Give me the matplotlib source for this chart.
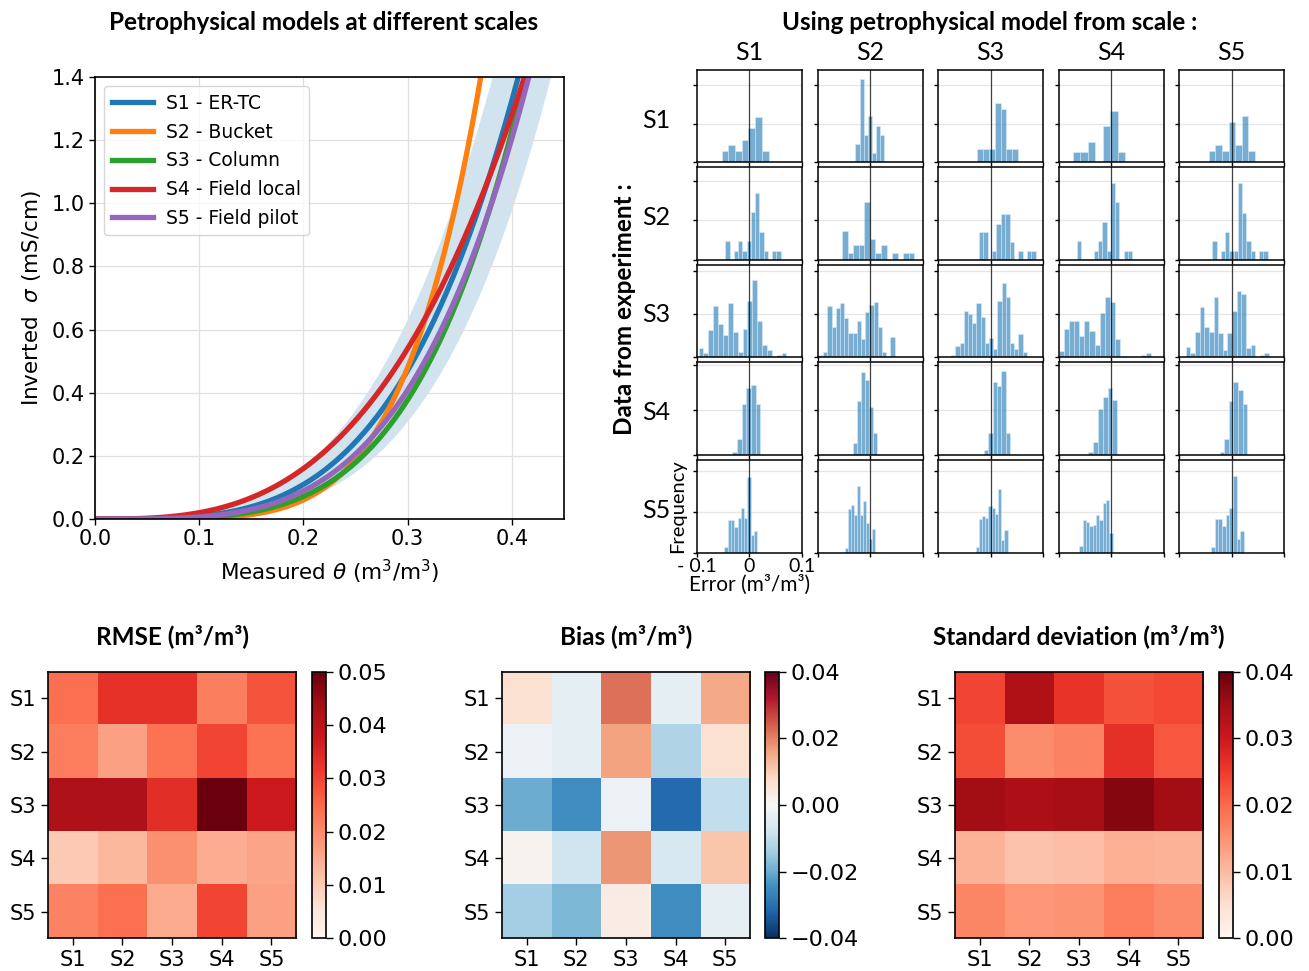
import numpy as np
import matplotlib
matplotlib.use("Agg")
import matplotlib.pyplot as plt

W, H = 1309, 971

scales = ["S1", "S2", "S3", "S4", "S5"]
model_names = ["S1 - ER-TC", "S2 - Bucket", "S3 - Column", "S4 - Field local", "S5 - Field pilot"]
model_colors = ["tab:blue", "tab:orange", "tab:green", "tab:red", "tab:purple"]

# petrophysical models: sigma = a * theta**n (mS/cm)
archie_a = [35.9, 222.6, 52.6, 20.0, 37.8]
archie_n = [3.6, 5.1, 4.1, 3.0, 3.76]
# S1 uncertainty envelope (upper / lower)
band_a = [33.8, 38.4]
band_n = [3.3, 4.0]

# error histograms, one row per experiment, columns = model scale
# (first bin edge, bin width, bar heights)
err_s1_start = [-0.0533, -0.0277, -0.0248, -0.0723, -0.043]
err_s1_width = [0.0128, 0.0078, 0.011, 0.0142, 0.0125]
err_s1_freq = [
    [1.45, 2.2, 1.45, 2.9, 4.4, 5.8, 1.45],
    [2.4, 10.7, 3.6, 6.0, 1.2, 4.75, 3.6],
    [1.7, 1.7, 1.7, 7.6, 6.9, 1.7, 1.7],
    [1.3, 1.3, 2.7, 0, 4.7, 6.6, 1.3],
    [1.5, 2.2, 1.5, 5.2, 2.2, 6.0, 1.5],
]
err_s2_start = [-0.046, -0.0533, -0.0219, -0.065, -0.0365]
err_s2_width = [0.0081, 0.0106, 0.0083, 0.0081, 0.0081]
err_s2_freq = [
    [2.4, 0, 1.15, 2.4, 1.15, 2.4, 6.1, 8.5, 3.6, 1.15, 0, 1.15, 1.15],
    [3.7, 0.85, 1.85, 1.85, 7.35, 2.7, 0.85, 1.85, 0, 0.85, 0, 0.85, 0.85],
    [3.5, 3.5, 0, 1.1, 4.6, 5.8, 5.8, 2.3, 0, 1.1, 0, 1.1, 1.1],
    [2.4, 0, 0, 0, 1.15, 2.4, 4.8, 1.15, 9.7, 7.3, 0, 1.15, 1.15],
    [2.4, 0, 1.15, 3.6, 1.15, 1.15, 9.7, 6.0, 2.4, 1.15, 0, 1.15, 1.15],
]
err_s3_start = [-0.097, -0.097, -0.075, -0.1, -0.087]
err_s3_width = [0.0093, 0.008, 0.008, 0.0098, 0.0088]
err_s3_freq = [
    [1.15, 0.55, 3.2, 6.0, 3.9, 2.65, 6.3, 3.0, 0.6, 3.3, 6.6, 9.0, 4.2, 1.5, 0.87, 0, 0.28, 0.55],
    [0.28, 0.67, 6.0, 3.5, 5.7, 6.3, 4.6, 2.85, 2.85, 4.2, 2.1, 5.25, 6.1, 6.4, 3.5, 0.67, 0, 2.4],
    [0.28, 1.35, 1.7, 5.45, 5.1, 4.0, 6.3, 4.7, 1.65, 2.3, 1.0, 6.55, 8.65, 7.0, 1.65, 1.0, 2.75, 0.67],
    [0.8, 3.3, 4.2, 4.2, 2.5, 4.2, 3.1, 1.5, 5.2, 7.0, 6.4, 2.2, 0.12, 0, 0, 0, 0.28, 0.47],
    [1.2, 0.55, 3.0, 5.85, 3.6, 3.0, 7.0, 2.8, 0.87, 2.8, 5.4, 7.7, 7.4, 1.15, 1.4, 0, 0.28, 0.5],
]
err_s4_start = [-0.033, -0.032, -0.0124, -0.043, -0.022]
err_s4_width = [0.0089, 0.0077, 0.0082, 0.0091, 0.0086]
err_s4_freq = [
    [0.38, 1.8, 5.65, 7.45, 7.8, 5.7],
    [1.3, 6.0, 9.25, 8.4, 5.4, 2.4],
    [0.53, 2.5, 8.1, 7.7, 9.3, 2.4],
    [0.38, 1.5, 5.1, 6.5, 7.45, 6.1],
    [0.38, 1.8, 6.0, 8.1, 7.2, 5.65],
]
err_s5_start = [-0.048, -0.0475, -0.0285, -0.0606, -0.0387]
err_s5_width = [0.0063, 0.00575, 0.0061, 0.00635, 0.0069]
err_s5_freq = [
    [0.67, 4.0, 4.0, 3.2, 4.3, 5.5, 4.2, 9.3, 2.1, 2.6],
    [0.5, 5.3, 5.8, 4.6, 8.2, 4.6, 6.4, 3.6, 1.7, 2.9],
    [0.67, 4.1, 4.45, 4.2, 5.75, 5.5, 4.8, 7.8, 1.5, 2.8],
    [0.75, 4.0, 3.7, 3.3, 3.35, 4.6, 4.0, 6.1, 6.5, 2.4],
    [0.63, 4.1, 4.1, 3.25, 4.6, 5.5, 9.45, 1.7, 2.65],
]
row_ytop = [11.9, 11.7, 10.75, 10.3, 11.4]

# summary matrices (rows: data from experiment, cols: model scale)
rmse = np.array([
    [0.024, 0.033, 0.033, 0.0215, 0.028],
    [0.022, 0.0165, 0.0235, 0.030, 0.0235],
    [0.042, 0.042, 0.0335, 0.0495, 0.0375],
    [0.010, 0.013, 0.019, 0.0145, 0.016],
    [0.021, 0.024, 0.015, 0.030, 0.0165],
])
bias = np.array([
    [0.006, -0.004, 0.022, -0.004, 0.015],
    [-0.0025, -0.004, 0.016, -0.012, 0.006],
    [-0.020, -0.025, -0.0025, -0.031, -0.010],
    [0.0015, -0.008, 0.0175, -0.0065, 0.011],
    [-0.0135, -0.018, 0.003, -0.025, -0.004],
])
std = np.array([
    [0.024, 0.0335, 0.026, 0.0225, 0.0235],
    [0.023, 0.0155, 0.017, 0.0265, 0.022],
    [0.035, 0.034, 0.0345, 0.0375, 0.035],
    [0.011, 0.009, 0.0095, 0.0115, 0.011],
    [0.0165, 0.0145, 0.0148, 0.0175, 0.016],
])

title_font = "Lato"
big = 17.5

fig = plt.figure(figsize=(W / 100, H / 100), dpi=100)


def box(x0, y0, x1, y1):
    # pixel box (top-left origin) -> figure fraction rect
    return [x0 / W, 1 - y1 / H, (x1 - x0) / W, (y1 - y0) / H]


# ---- petrophysical models ----
ax = fig.add_axes(box(95, 77, 564, 519))
theta = np.linspace(0, 0.45, 400)
ax.fill_between(theta, band_a[0] * theta ** band_n[0], band_a[1] * theta ** band_n[1],
                color="tab:blue", alpha=0.2, lw=0)
for a, n, name, c in zip(archie_a, archie_n, model_names, model_colors):
    ax.plot(theta, a * theta ** n, color=c, lw=3.8, label=name)
ax.set_xlim(0, 0.45)
ax.set_ylim(0, 1.4)
ax.set_xticks([0, 0.1, 0.2, 0.3, 0.4])
ax.grid(True, color="0.88", lw=0.9)
ax.tick_params(labelsize=15, length=4, width=1)
ax.set_xlabel(r"Measured $\theta$ (m$^3$/m$^3$)", fontsize=15.5, labelpad=6)
ax.set_ylabel(r"Inverted  $\sigma$ (mS/cm)", fontsize=15.5, labelpad=6)
for s in ax.spines.values():
    s.set_linewidth(1.2)
ax.legend(loc="upper left", fontsize=13.5, handlelength=2.2, borderaxespad=0.5,
          labelspacing=0.52, handletextpad=0.7)
fig.text(324 / W, 1 - 22 / H, "Petrophysical models at different scales", ha="center",
         va="center", fontsize=big, fontweight="bold", family=title_font)

# ---- error histograms ----
starts = [err_s1_start, err_s2_start, err_s3_start, err_s4_start, err_s5_start]
widths = [err_s1_width, err_s2_width, err_s3_width, err_s4_width, err_s5_width]
freqs = [err_s1_freq, err_s2_freq, err_s3_freq, err_s4_freq, err_s5_freq]
col_left = [697, 817.5, 938, 1058.5, 1179]
row_top = [70, 167.5, 265, 362.5, 460]
pw, ph = 105, 92.5

for i in range(5):
    for j in range(5):
        hx = fig.add_axes(box(col_left[j], row_top[i], col_left[j] + pw, row_top[i] + ph))
        h = np.array(freqs[i][j])
        edges = starts[i][j] + widths[i][j] * np.arange(len(h))
        hx.bar(edges, h, width=widths[i][j], align="edge", color="tab:blue",
               alpha=0.6, edgecolor=(0.85, 0.92, 1.0), linewidth=0.6, zorder=2)
        hx.axvline(0, color="k", lw=0.9, alpha=0.75, zorder=3)
        hx.set_xlim(-0.1, 0.1)
        hx.set_ylim(0, row_ytop[i])
        hx.set_yticks([0, 5, 10])
        hx.set_xticks([-0.1, 0, 0.1])
        hx.grid(axis="y", color="0.9", lw=0.9, zorder=0)
        hx.tick_params(length=3, width=1)
        hx.set_yticklabels([])
        for s in hx.spines.values():
            s.set_linewidth(1.1)
        if i == 4 and j == 0:
            hx.set_xticklabels(["- 0.1", "0", "0.1"], family=title_font, fontsize=14)
            hx.tick_params(axis="x", pad=1)
            hx.set_xlabel("Error (m³/m³)", family=title_font, fontsize=15, labelpad=0)
            hx.set_ylabel("Frequency", family=title_font, fontsize=14.5, labelpad=1)
        else:
            hx.set_xticklabels([])
        if i == 0:
            fig.text((col_left[j] + pw / 2) / W, 1 - 53 / H, scales[j], ha="center",
                     va="center", fontsize=18, family=title_font)
    fig.text(670 / W, 1 - (row_top[i] + 50) / H, scales[i], ha="right", va="center",
             fontsize=18, family=title_font)

fig.text(990 / W, 1 - 22 / H, "Using petrophysical model from scale :", ha="center",
         va="center", fontsize=big, fontweight="bold", family=title_font)
fig.text(625 / W, 1 - 309 / H, "Data from experiment :", ha="center", va="center",
         rotation=90, fontsize=big, fontweight="bold", family=title_font)

# ---- summary heatmaps ----
panels = [
    (rmse, "Reds", 0, 0.05, [0, 0.01, 0.02, 0.03, 0.04, 0.05], "RMSE (m³/m³)", 48, 312),
    (bias, "RdBu_r", -0.04, 0.04, [-0.04, -0.02, 0, 0.02, 0.04], "Bias (m³/m³)", 501.7, 765),
    (std, "Reds", 0, 0.04, [0, 0.01, 0.02, 0.03, 0.04], "Standard deviation (m³/m³)", 955, 1219),
]
for mat, cmap, lo, hi, cticks, title, x0, cx0 in panels:
    mx = fig.add_axes(box(x0, 671.7, x0 + 248.3, 938.3))
    im = mx.imshow(mat, cmap=cmap, vmin=lo, vmax=hi, aspect="auto")
    mx.set_xticks(range(5))
    mx.set_xticklabels(scales)
    mx.set_yticks(range(5))
    mx.set_yticklabels(scales)
    mx.tick_params(labelsize=15, length=5, width=1)
    for s in mx.spines.values():
        s.set_linewidth(1.2)
    cax = fig.add_axes(box(cx0, 671.7, cx0 + 13.5, 938.3))
    cb = fig.colorbar(im, cax=cax, ticks=cticks)
    cb.ax.tick_params(labelsize=16, length=5, width=1)
    cb.outline.set_linewidth(1.2)
    fig.text((x0 + 124) / W, 1 - 636 / H, title, ha="center", va="center",
             fontsize=big, fontweight="bold", family=title_font)

fig.savefig("out.png", dpi=100)
